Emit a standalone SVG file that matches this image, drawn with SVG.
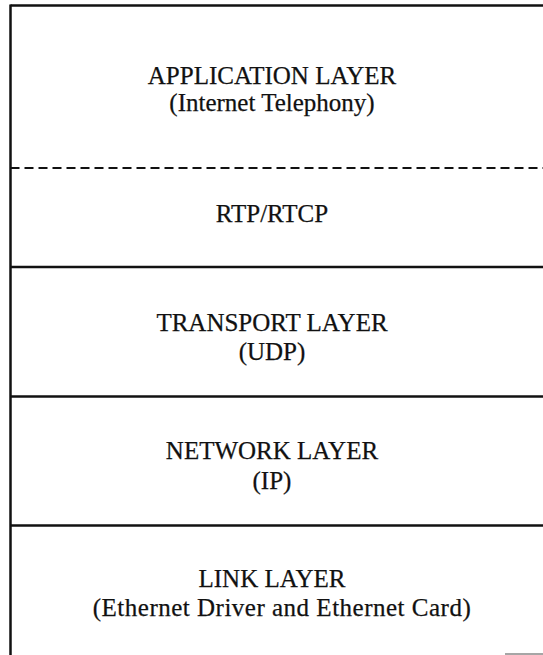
<svg xmlns="http://www.w3.org/2000/svg" width="543" height="655" viewBox="0 0 543 655">
  <style>
    .rule { stroke: #111; stroke-width: 2.5; fill: none; }
    .dash { stroke: #111; stroke-width: 2; stroke-dasharray: 9 5; fill: none; }
    .lbl { font-family: "Liberation Serif", "Times New Roman", serif; font-size: 25px; fill: #111; text-anchor: middle; stroke: #111; stroke-width: 0.25; }
  </style>
  <rect width="543" height="655" fill="#fff"/>
  <g id="connectors">
    <line class="rule" x1="10.5" y1="5.5" x2="543" y2="5.5"/>
    <line class="rule" x1="10.5" y1="4.5" x2="10.5" y2="655"/>
    <line class="dash" x1="10.5" y1="168" x2="543" y2="168"/>
    <line class="rule" x1="10.5" y1="267" x2="543" y2="267"/>
    <line class="rule" x1="10.5" y1="396.5" x2="543" y2="396.5"/>
    <line class="rule" x1="10.5" y1="525.5" x2="543" y2="525.5"/>
    <line stroke="#888" stroke-width="1.5" x1="505" y1="654" x2="543" y2="654"/>
  </g>
  <g id="application">
    <text class="lbl" x="272" y="84">APPLICATION LAYER</text>
    <text class="lbl" x="272" y="111">(Internet Telephony)</text>
  </g>
  <g id="rtp">
    <text class="lbl" x="272" y="222">RTP/RTCP</text>
  </g>
  <g id="transport">
    <text class="lbl" x="272" y="331">TRANSPORT LAYER</text>
    <text class="lbl" x="272" y="360">(UDP)</text>
  </g>
  <g id="network">
    <text class="lbl" x="272" y="459">NETWORK LAYER</text>
    <text class="lbl" x="272" y="489">(IP)</text>
  </g>
  <g id="link">
    <text class="lbl" x="272" y="587">LINK LAYER</text>
    <text class="lbl" x="282" y="616" letter-spacing="0.5">(Ethernet Driver and Ethernet Card)</text>
  </g>
</svg>
